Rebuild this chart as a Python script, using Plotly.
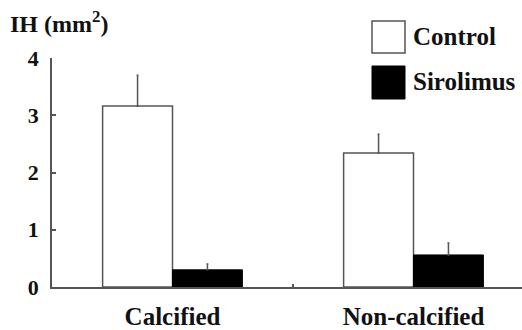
import plotly.graph_objects as go

categories = ["Calcified", "Non-calcified"]
control = [3.16, 2.34]
control_err = [0.54, 0.33]
sirolimus = [0.30, 0.56]
sirolimus_err = [0.10, 0.21]
y_ticks = [0, 1, 2, 3, 4]

FONT = "'Liberation Serif', 'Times New Roman', Times, serif"
LINE = "#555555"
TXT = "#111111"

# plot area in pixels: x 52..522, y 58..287
L, R, T, B = 52, 0, 58, 43
W, H = 522, 330
pw, ph = W - L - R, H - T - B

def px(x):
    return (x - L) / pw

def py(y):
    return (H - B - y) / ph

fig = go.Figure()
fig.add_bar(
    x=categories, y=control, name="Control",
    marker=dict(color="white", line=dict(color=LINE, width=1.5)),
    error_y=dict(type="data", array=control_err, arrayminus=[0, 0], symmetric=False,
                 color=LINE, thickness=1.5, width=1),
)
fig.add_bar(
    x=categories, y=sirolimus, name="Sirolimus",
    marker=dict(color="black", line=dict(color="black", width=1)),
    error_y=dict(type="data", array=sirolimus_err, arrayminus=[0, 0], symmetric=False,
                 color=LINE, thickness=1.5, width=1),
)

fig.update_layout(
    width=W, height=H,
    margin=dict(l=L, r=R, t=T, b=B, pad=0, autoexpand=False),
    paper_bgcolor="white", plot_bgcolor="white",
    barmode="group", bargap=0.42, bargroupgap=0,
    showlegend=False,
    font=dict(family=FONT, color=TXT),
)
fig.update_xaxes(
    type="category", range=[-0.5, -0.5 + pw / 241],
    showline=True, linecolor=LINE, linewidth=1.5,
    ticks="inside", tickson="boundaries", ticklen=3, tickcolor=LINE, tickwidth=1.5,
    tickfont=dict(family=FONT, size=25, color=TXT, weight="bold"),
    ticklabelstandoff=6, automargin=False,
    showgrid=False, zeroline=False,
)
fig.update_yaxes(
    range=[0, 4], tickvals=y_ticks, ticktext=[str(v) for v in y_ticks],
    showline=True, linecolor=LINE, linewidth=1.5,
    ticks="inside", ticklen=4, tickcolor=LINE, tickwidth=1.5,
    tickfont=dict(family=FONT, size=22, color=TXT, weight="bold"),
    ticklabelstandoff=7, automargin=False,
    showgrid=False, zeroline=False,
)

# legend drawn manually with large boxes
fig.add_shape(type="rect", xref="paper", yref="paper",
              x0=px(372), x1=px(405), y0=py(53), y1=py(21),
              fillcolor="white", line=dict(color=LINE, width=1.5))
fig.add_shape(type="rect", xref="paper", yref="paper",
              x0=px(372), x1=px(405), y0=py(99), y1=py(66),
              fillcolor="black", line=dict(color="black", width=1))
fig.add_annotation(xref="paper", yref="paper", x=px(411), y=py(36), text="Control",
                   showarrow=False, xanchor="left", yanchor="middle",
                   font=dict(family=FONT, size=25, color=TXT, weight="bold"))
fig.add_annotation(xref="paper", yref="paper", x=px(411), y=py(81), text="Sirolimus",
                   showarrow=False, xanchor="left", yanchor="middle",
                   font=dict(family=FONT, size=25, color=TXT, weight="bold"))
fig.add_annotation(xref="paper", yref="paper", x=px(8), y=py(22), text="IH (mm<sup>2</sup>)",
                   showarrow=False, xanchor="left", yanchor="middle",
                   font=dict(family=FONT, size=24, color=TXT, weight="bold"))

fig.write_html("out.html", config={"displayModeBar": False},
               post_script="document.body.style.margin='0';")
